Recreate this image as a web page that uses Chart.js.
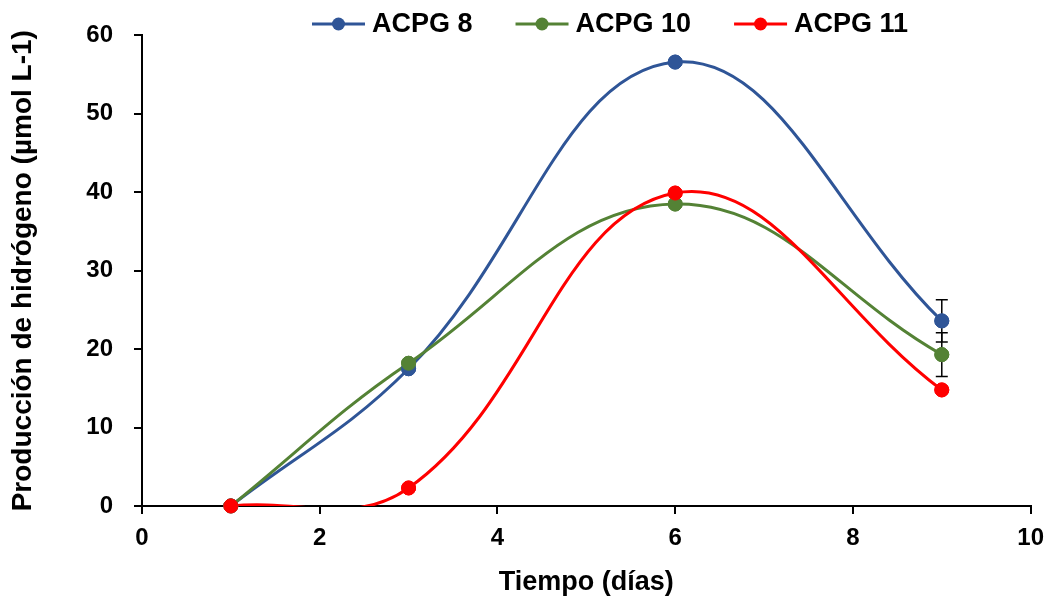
<!DOCTYPE html>
<html>
<head>
<meta charset="utf-8">
<script src="https://cdn.jsdelivr.net/npm/chart.js@4"></script>
<style>
  html, body { margin: 0; padding: 0; background: #fff; }
  #wrap { width: 1054px; height: 607px; }
</style>
</head>
<body>
<div id="wrap"><canvas id="h2Chart"></canvas></div>
<script>
// Hydrogen production per strain over time
const days = [1, 3, 6, 9];
const acpg8 = [0, 17.5, 56.6, 23.6];
const acpg10 = [0, 18.2, 38.5, 19.3];
const acpg11 = [0, 2.3, 39.9, 14.8];
// standard error (only the last sampling has visible bars)
const err8 = [null, null, null, 2.7];
const err10 = [null, null, null, 2.8];
const err11 = [null, null, null, null];
const xTicks = [0, 2, 4, 6, 8, 10];
const yTicks = [0, 10, 20, 30, 40, 50, 60];

const FONT = "'Liberation Sans', Arial, sans-serif";

function toPoints(values) {
    return days.map((d, i) => ({ x: d, y: values[i] }));
}

function series(label, values, errors, color, order) {
    return {
        label: label,
        data: toPoints(values),
        errors: errors,
        borderColor: color,
        backgroundColor: color,
        pointBackgroundColor: color,
        pointBorderColor: color,
        borderWidth: 3,
        pointRadius: 7,
        pointBorderWidth: 1,
        tension: 0.4,
        capBezierPoints: false,
        order: order
    };
}

// vertical error bars with caps, drawn under the markers
const errorBars = {
    id: 'errorBars',
    beforeDatasetsDraw(chart) {
        const ctx = chart.ctx;
        const y = chart.scales.y;
        ctx.save();
        ctx.strokeStyle = '#000';
        ctx.lineWidth = 1.5;
        chart.data.datasets.forEach((ds, di) => {
            const meta = chart.getDatasetMeta(di);
            ds.errors.forEach((e, i) => {
                if (e == null) return;
                const pt = meta.data[i];
                const v = ds.data[i].y;
                const top = y.getPixelForValue(v + e);
                const bot = y.getPixelForValue(v - e);
                ctx.beginPath();
                ctx.moveTo(pt.x, top); ctx.lineTo(pt.x, bot);
                ctx.moveTo(pt.x - 6, top); ctx.lineTo(pt.x + 6, top);
                ctx.moveTo(pt.x - 6, bot); ctx.lineTo(pt.x + 6, bot);
                ctx.stroke();
            });
        });
        ctx.restore();
    },
    // markers sitting on the x axis would be cut by the clip, so draw them again
    afterDatasetsDraw(chart) {
        chart.data.datasets.forEach((ds, di) => {
            chart.getDatasetMeta(di).data.forEach(el => el.draw(chart.ctx, chart.chartArea));
        });
    }
};

// legend row: line with marker, then label
const lineLegend = {
    id: 'lineLegend',
    afterDraw(chart) {
        const ctx = chart.ctx;
        ctx.save();
        ctx.font = 'bold 27px ' + FONT;
        ctx.textBaseline = 'middle';
        let x = 312;
        const cy = 24;
        chart.data.datasets.forEach(ds => {
            ctx.strokeStyle = ds.borderColor;
            ctx.lineWidth = 3;
            ctx.beginPath();
            ctx.moveTo(x, cy); ctx.lineTo(x + 53, cy);
            ctx.stroke();
            ctx.fillStyle = ds.borderColor;
            ctx.beginPath();
            ctx.arc(x + 26.5, cy, 6.5, 0, Math.PI * 2);
            ctx.fill();
            ctx.fillStyle = '#000';
            ctx.fillText(ds.label, x + 60, cy + 1);
            x += 60 + ctx.measureText(ds.label).width + 43;
        });
        ctx.restore();
    }
};

const config = {
    type: 'line',
    data: {
        datasets: [
            series('ACPG 8', acpg8, err8, '#2F5597', 2),
            series('ACPG 10', acpg10, err10, '#548235', 1),
            series('ACPG 11', acpg11, err11, '#FF0000', 0)
        ]
    },
    options: {
        responsive: true,
        maintainAspectRatio: false,
        animation: false,
        layout: { padding: { top: 33, right: 23, left: 0, bottom: 0 } },
        plugins: {
            legend: { display: false },
            tooltip: { enabled: false }
        },
        scales: {
            x: {
                type: 'linear',
                min: 0,
                max: 10,
                afterBuildTicks: s => { s.ticks = xTicks.map(v => ({ value: v })); },
                afterFit: s => { s.height = 101; },
                border: { color: '#000', width: 2 },
                grid: { drawOnChartArea: false, color: '#000', lineWidth: 2, tickLength: 8 },
                ticks: { color: '#000', padding: 10, font: { family: FONT, size: 24, weight: 'bold' } },
                title: {
                    display: true,
                    text: 'Tiempo (días)',
                    color: '#000',
                    padding: { top: 0, bottom: 8 },
                    font: { family: FONT, size: 27, weight: 'bold' }
                }
            },
            y: {
                min: 0,
                max: 60,
                afterBuildTicks: s => { s.ticks = yTicks.map(v => ({ value: v })); },
                afterFit: s => { s.width = 142; },
                border: { color: '#000', width: 2 },
                grid: { drawOnChartArea: false, color: '#000', lineWidth: 2, tickLength: 8 },
                ticks: { color: '#000', padding: 21, font: { family: FONT, size: 24, weight: 'bold' } },
                title: {
                    display: true,
                    text: 'Producción de hidrógeno (µmol L-1)',
                    color: '#000',
                    padding: { top: 6, bottom: 0 },
                    font: { family: FONT, size: 28, weight: 'bold' }
                }
            }
        }
    },
    plugins: [errorBars, lineLegend]
};

const h2Chart = new Chart(document.getElementById('h2Chart'), config);
</script>
</body>
</html>
